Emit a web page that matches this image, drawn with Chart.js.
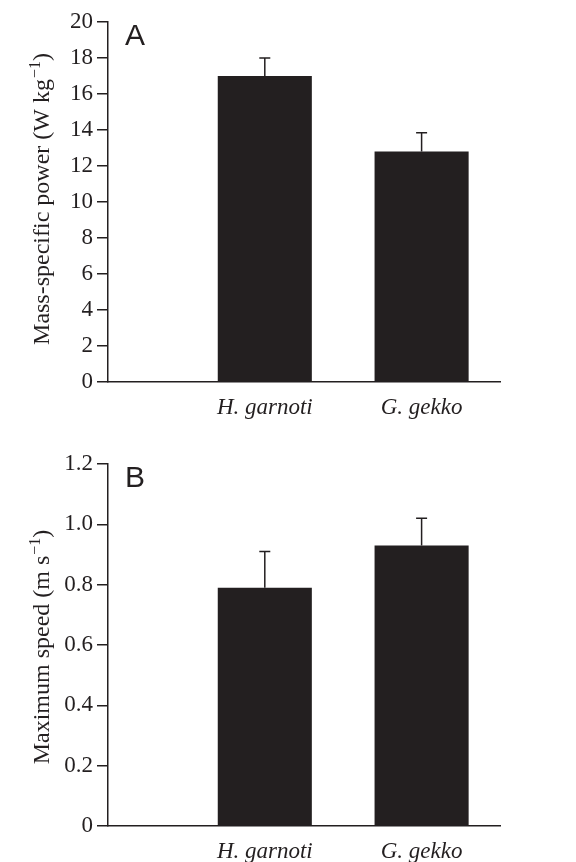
<!DOCTYPE html>
<html>
<head>
<meta charset="utf-8">
<script src="https://cdn.jsdelivr.net/npm/chart.js@4.4.1/dist/chart.umd.min.js"></script>
<style>
  body { margin: 0; background: #fff; }
  .panel { position: absolute; left: 0; width: 576px; height: 431px; }
</style>
</head>
<body>
<div class="panel" style="top:0"><canvas id="chartA" width="576" height="431"></canvas></div>
<div class="panel" style="top:431px"><canvas id="chartB" width="576" height="431"></canvas></div>
<script>
// species on the x axis
const species = ['H. garnoti', 'G. gekko'];

// panel A: mass-specific power (W kg-1), mean and upper error
const powerMean = [17.0, 12.8];
const powerErr = [1.0, 1.05];
const powerTicks = [0, 2, 4, 6, 8, 10, 12, 14, 16, 18, 20];

// panel B: maximum speed (m s-1)
const speedMean = [0.79, 0.93];
const speedErr = [0.12, 0.09];
const speedTicks = [0, 0.2, 0.4, 0.6, 0.8, 1.0, 1.2];

const ink = '#231f20';
const serif = 'Liberation Serif';

// error bars, panel letter and the y title (it has a superscript)
const extras = {
  id: 'extras',
  afterDatasetsDraw(chart, args, opts) {
    const ctx = chart.ctx;
    const x = chart.scales.x, y = chart.scales.y;
    const area = chart.chartArea;
    ctx.save();
    ctx.strokeStyle = ink;
    ctx.lineWidth = 1.5;
    opts.mean.forEach((m, i) => {
      const px = x.getPixelForValue(i + 1);
      const y0 = y.getPixelForValue(m);
      const y1 = y.getPixelForValue(m + opts.err[i]);
      ctx.beginPath();
      ctx.moveTo(px, y0);
      ctx.lineTo(px, y1);
      ctx.moveTo(px - 5.5, y1);
      ctx.lineTo(px + 5.5, y1);
      ctx.stroke();
    });
    ctx.fillStyle = ink;
    ctx.font = '30px "Liberation Sans"';
    ctx.textBaseline = 'alphabetic';
    ctx.fillText(opts.letter, area.left + 17, area.top + 23);

    // rotated axis title
    const main = '24px "' + serif + '"';
    const sup = '16px "' + serif + '"';
    const [pre, exp, post] = opts.title;
    ctx.font = main;
    const w1 = ctx.measureText(pre).width, w3 = ctx.measureText(post).width;
    ctx.font = sup;
    const w2 = ctx.measureText(exp).width;
    const total = w1 + w2 + w3 + 1;
    ctx.translate(49, (area.top + area.bottom) / 2 + opts.titleShift);
    ctx.rotate(-Math.PI / 2);
    let tx = -total / 2;
    ctx.font = main;
    ctx.fillText(pre, tx, 0);
    tx += w1 + 1;
    ctx.font = sup;
    ctx.fillText(exp, tx, -9);
    tx += w2;
    ctx.font = main;
    ctx.fillText(post, tx, 0);
    ctx.restore();
  }
};

function makeChart(id, mean, err, ticks, max, title, shift, letter, padTop, xHeight, fmt) {
  return new Chart(document.getElementById(id), {
    type: 'bar',
    data: {
      datasets: [{
        data: mean.map((v, i) => ({ x: i + 1, y: v })),
        backgroundColor: ink,
        borderWidth: 0,
        barPercentage: 1,
        categoryPercentage: 0.6
      }]
    },
    options: {
      responsive: false,
      animation: false,
      layout: { padding: { top: padTop, right: 76, left: 0, bottom: 0 } },
      plugins: {
        legend: { display: false },
        tooltip: { enabled: false },
        extras: { mean: mean, err: err, letter: letter, title: title, titleShift: shift }
      },
      scales: {
        x: {
          type: 'linear',
          min: 0,
          max: 2.5,
          offset: false,
          afterFit: s => { s.height = xHeight; },
          afterBuildTicks: s => { s.ticks = species.map((c, i) => ({ value: i + 1 })); },
          grid: { drawOnChartArea: false, drawTicks: false },
          border: { display: true, color: ink, width: 1.5 },
          ticks: {
            padding: 12,
            color: ink,
            font: { family: serif, size: 23, style: 'italic' },
            callback: v => species[v - 1]
          }
        },
        y: {
          min: 0,
          max: max,
          afterFit: s => { s.width = 108; },
          afterBuildTicks: s => { s.ticks = ticks.map(v => ({ value: v })); },
          grid: { drawOnChartArea: false, drawTicks: true, tickLength: 11, color: ink, lineWidth: 1.5 },
          border: { display: true, color: ink, width: 1.5 },
          ticks: {
            padding: 4,
            color: ink,
            font: { family: serif, size: 23 },
            callback: fmt
          }
        }
      }
    },
    plugins: [extras]
  });
}

makeChart('chartA', powerMean, powerErr, powerTicks, 20,
  ['Mass-specific power (W kg', '\u22121', ')'], -3, 'A', 22, 49, v => String(v));
makeChart('chartB', speedMean, speedErr, speedTicks, 1.2,
  ['Maximum speed (m s', '\u22121', ')'], 2, 'B', 33, 36, v => (v === 0 ? '0' : v.toFixed(1)));
</script>
</body>
</html>
